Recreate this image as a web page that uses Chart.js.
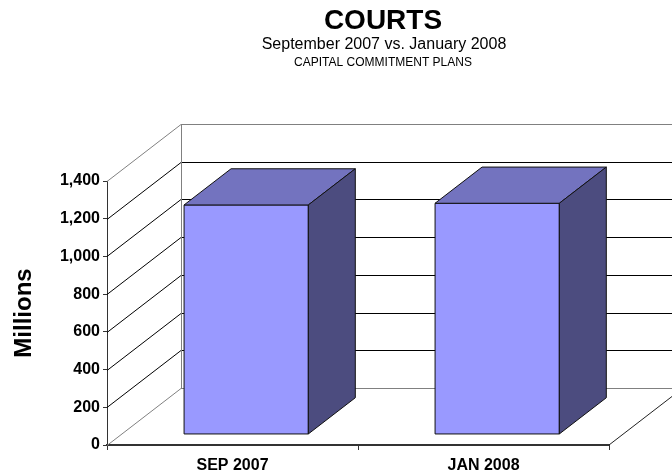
<!DOCTYPE html>
<html>
<head>
<meta charset="utf-8">
<script src="https://cdn.jsdelivr.net/npm/chart.js@4.4.1/dist/chart.umd.min.js"></script>
<style>
  html, body { margin: 0; padding: 0; background: #fff; }
</style>
</head>
<body>
<canvas id="courtsChart" width="672" height="474"></canvas>
<script>
// Data
const categories = ['SEP 2007', 'JAN 2008'];
const commitments = [1217, 1226];
const yTicks = [0, 200, 400, 600, 800, 1000, 1200, 1400];
const titleLines = ['COURTS', 'September 2007 vs. January 2008', 'CAPITAL COMMITMENT PLANS'];
const yAxisLabel = 'Millions';

// 3D look (Excel style)
const DEPTH_X = 74;
const DEPTH_Y = -57;
const BAR_FRONT = 0.185;
const BAR_BACK = 0.82;

const FONT = '"Liberation Sans", Arial, sans-serif';
Chart.defaults.font.family = FONT;
Chart.defaults.color = '#000';

function line(ctx, x1, y1, x2, y2) {
  ctx.beginPath();
  ctx.moveTo(x1, y1);
  ctx.lineTo(x2, y2);
  ctx.stroke();
}

// walls + floor behind the bars
const wallsPlugin = {
  id: 'walls',
  beforeDatasetsDraw(chart) {
    const ctx = chart.ctx;
    const yScale = chart.scales.y;
    const left = chart.chartArea.left;
    const right = chart.chartArea.right;
    const last = yTicks[yTicks.length - 1];
    ctx.save();
    ctx.lineWidth = 1;
    yTicks.forEach(v => {
      const y = Math.round(yScale.getPixelForValue(v)) + 0.5;
      const edge = v === 0 || v === last;
      ctx.strokeStyle = edge ? '#808080' : '#000';
      line(ctx, left, y, left + DEPTH_X, y + DEPTH_Y);
      line(ctx, left + DEPTH_X, y + DEPTH_Y, right + DEPTH_X + 20, y + DEPTH_Y);
    });
    const yTop = yScale.getPixelForValue(last);
    const yZero = yScale.getPixelForValue(0);
    ctx.strokeStyle = '#808080';
    line(ctx, left + DEPTH_X + 0.5, yTop + DEPTH_Y, left + DEPTH_X + 0.5, yZero + DEPTH_Y);
    ctx.strokeStyle = '#222';
    line(ctx, right, yZero, right + DEPTH_X, yZero + DEPTH_Y);
    ctx.restore();
  }
};

// 3D bars drawn from the bar elements
const barsPlugin = {
  id: 'bars3d',
  afterDatasetsDraw(chart) {
    const ctx = chart.ctx;
    const meta = chart.getDatasetMeta(0);
    const fx = DEPTH_X * BAR_FRONT, fy = DEPTH_Y * BAR_FRONT;
    const dx = DEPTH_X * (BAR_BACK - BAR_FRONT);
    const dy = DEPTH_Y * (BAR_BACK - BAR_FRONT);
    ctx.save();
    ctx.lineWidth = 1;
    ctx.strokeStyle = '#111';
    ctx.lineJoin = 'miter';
    meta.data.forEach(bar => {
      const half = bar.width / 2;
      const x1 = bar.x - half + fx;
      const x2 = bar.x + half + fx;
      const yt = bar.y + fy;
      const yb = bar.base + fy;

      // front
      ctx.fillStyle = '#9999FF';
      ctx.beginPath();
      ctx.rect(x1, yt, x2 - x1, yb - yt);
      ctx.fill();
      ctx.stroke();

      // top
      ctx.fillStyle = '#7373BF';
      ctx.beginPath();
      ctx.moveTo(x1, yt);
      ctx.lineTo(x1 + dx, yt + dy);
      ctx.lineTo(x2 + dx, yt + dy);
      ctx.lineTo(x2, yt);
      ctx.closePath();
      ctx.fill();
      ctx.stroke();

      // side
      ctx.fillStyle = '#4C4C7F';
      ctx.beginPath();
      ctx.moveTo(x2, yt);
      ctx.lineTo(x2 + dx, yt + dy);
      ctx.lineTo(x2 + dx, yb + dy);
      ctx.lineTo(x2, yb);
      ctx.closePath();
      ctx.fill();
      ctx.stroke();
    });
    ctx.restore();
  }
};

// title block
const titlePlugin = {
  id: 'titleBlock',
  afterDraw(chart) {
    const ctx = chart.ctx;
    const cx = 383;
    ctx.save();
    ctx.fillStyle = '#000';
    ctx.textAlign = 'center';
    ctx.textBaseline = 'middle';
    ctx.font = 'bold 28px ' + FONT;
    ctx.fillText(titleLines[0], cx, 21);
    ctx.font = '16px ' + FONT;
    ctx.fillText(titleLines[1], 384, 45);
    ctx.font = '12px ' + FONT;
    ctx.fillText(titleLines[2], cx, 63);
    ctx.restore();
  }
};

new Chart(document.getElementById('courtsChart'), {
  type: 'bar',
  data: {
    labels: categories,
    datasets: [{
      label: 'Capital commitments',
      data: commitments,
      backgroundColor: 'rgba(0,0,0,0)',
      borderWidth: 0,
      categoryPercentage: 1,
      barPercentage: 0.495
    }]
  },
  options: {
    responsive: false,
    animation: false,
    locale: 'en-US',
    layout: { padding: { top: 181, right: 63, left: 0, bottom: 0 } },
    plugins: {
      legend: { display: false },
      title: { display: false },
      tooltip: { enabled: false }
    },
    scales: {
      x: {
        grid: { display: true, drawOnChartArea: false, offset: true, tickLength: 5, color: '#333' },
        border: { display: true, color: '#333', width: 2 },
        ticks: { font: { weight: 'bold', size: 16 }, color: '#000', padding: 6 },
        afterFit: s => { s.height = 29; }
      },
      y: {
        min: 0,
        max: 1400,
        afterBuildTicks: s => { s.ticks = yTicks.map(v => ({ value: v })); },
        ticks: { font: { weight: 'bold', size: 16 }, color: '#000', padding: 3 },
        grid: { display: true, drawOnChartArea: false, tickLength: 4, color: '#333' },
        border: { display: true, color: '#333', width: 1 },
        title: {
          display: true,
          text: yAxisLabel,
          font: { weight: 'bold', size: 24 },
          color: '#000',
          padding: { top: 10, bottom: 0 }
        },
        afterFit: s => { s.width = 107; }
      }
    }
  },
  plugins: [wallsPlugin, barsPlugin, titlePlugin]
});
</script>
</body>
</html>
